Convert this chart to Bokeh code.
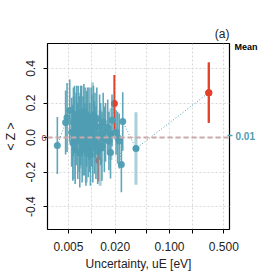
import math
from bokeh.plotting import figure
from bokeh.models import FixedTicker, LinearAxis, Range1d, Span
from bokeh.embed import file_html
from bokeh.resources import INLINE

# ---- data ----
unc = [0.0036, 0.0046, 0.0048, 0.0052, 0.0055, 0.0057, 0.0058, 0.0060, 0.0061, 0.0063,
       0.0064, 0.0066, 0.0067, 0.0069, 0.0070, 0.0072, 0.0074, 0.0075, 0.0077, 0.0079,
       0.0080, 0.0082, 0.0084, 0.0086, 0.0088, 0.0090, 0.0092, 0.0094, 0.0096, 0.0098,
       0.0100, 0.0103, 0.0105, 0.0108, 0.0110, 0.0113, 0.0116, 0.0119, 0.0126, 0.0130,
       0.0135, 0.0140, 0.0145, 0.0150, 0.0160, 0.0166, 0.0174, 0.0182, 0.0205, 0.0215,
       0.0225, 0.0240, 0.0250]
mz = [-0.046, 0.087, 0.116, 0.157, 0.03, -0.03, 0.09, 0.13, -0.07, 0.05,
      0.11, -0.02, 0.14, 0.02, -0.09, 0.07, 0.12, -0.05, 0.01, 0.15,
      -0.01, 0.09, -0.07, 0.05, 0.12, -0.04, 0.08, 0.00, -0.10, 0.10,
      0.04, -0.06, 0.13, 0.00, 0.07, -0.03, 0.11, -0.08, 0.06, 0.02,
      -0.05, 0.09, -0.01, 0.03, 0.06, -0.02, -0.087, 0.10, 0.03, 0.00,
      -0.02, -0.157, 0.093]
ez = [0.165, 0.185, 0.20, 0.18, 0.20, 0.22, 0.20, 0.17, 0.20, 0.21,
      0.19, 0.22, 0.16, 0.22, 0.20, 0.23, 0.18, 0.21, 0.23, 0.16,
      0.21, 0.20, 0.21, 0.22, 0.17, 0.19, 0.21, 0.20, 0.18, 0.19,
      0.21, 0.20, 0.17, 0.21, 0.19, 0.21, 0.18, 0.19, 0.19, 0.18,
      0.20, 0.17, 0.19, 0.17, 0.16, 0.17, 0.15, 0.15, 0.13, 0.15,
      0.16, 0.16, 0.17]

unc_light = [0.0059, 0.0071, 0.0085, 0.0102, 0.0128, 0.0176, 0.037]
mz_light = [0.00, 0.04, -0.03, 0.12, -0.06, 0.02, -0.064]
ez_light = [0.24, 0.22, 0.23, 0.20, 0.22, 0.15, 0.21]

unc_red = [0.0123, 0.0195, 0.32]
mz_red = [-0.133, 0.197, 0.26]
ez_red = [0.12, 0.165, 0.175]

mean_z = 0.01
x_ticks = [0.005, 0.01, 0.02, 0.05, 0.1, 0.2, 0.5]
x_tick_labels = {0.005: "0.005", 0.01: "", 0.02: "0.020", 0.05: "", 0.1: "0.100", 0.2: "", 0.5: "0.500"}
y_ticks = [-0.4, -0.2, 0.0, 0.2, 0.4]

TEAL = "#4f9db2"
TEAL_L = "#9fcbd7"
RED = "#e5412a"
FONT = "Liberation Sans"
INK = "#222222"

p = figure(width=274, height=274, x_axis_type="log",
           x_range=Range1d(0.00269, 0.591), y_range=Range1d(-0.533, 0.545),
           output_backend="svg", toolbar_location=None,
           min_border_left=44, min_border_right=45, min_border_top=43, min_border_bottom=45)
p.background_fill_color = "white"
p.border_fill_color = "white"
p.outline_line_color = "black"
p.outline_line_width = 1.2

# x axis
xa = p.xaxis[0]
xa.ticker = FixedTicker(ticks=x_ticks)
xa.major_label_overrides = x_tick_labels
xa.axis_line_color = None
xa.major_tick_in = 0
xa.major_tick_out = 4
xa.minor_tick_line_color = None
xa.major_label_text_font = FONT
xa.major_label_text_font_size = "12px"
xa.major_label_text_color = INK
xa.major_label_standoff = 8
xa.axis_label = "Uncertainty, uE [eV]"
xa.axis_label_text_font = FONT
xa.axis_label_text_font_size = "12px"
xa.axis_label_text_font_style = "normal"
xa.axis_label_text_color = INK
xa.axis_label_standoff = 3

# main y axis: rotated tick labels and axis title (outer)
ya = p.yaxis[0]
ya.ticker = FixedTicker(ticks=y_ticks)
ya.major_label_overrides = {v: ("%.1f" % v) for v in y_ticks}
ya.axis_line_color = None
ya.major_tick_line_color = None
ya.major_tick_in = 0
ya.major_tick_out = 0
ya.minor_tick_line_color = None
ya.major_label_orientation = "vertical"
ya.major_label_text_font = FONT
ya.major_label_text_font_size = "12px"
ya.major_label_text_color = INK
ya.major_label_standoff = 3
ya.axis_label = "< Z >"
ya.axis_label_text_font = FONT
ya.axis_label_text_font_size = "12px"
ya.axis_label_text_font_style = "normal"
ya.axis_label_text_color = INK
ya.axis_label_standoff = 6

# inner y axis: tick marks plus the small reference "0"
ya0 = LinearAxis(ticker=FixedTicker(ticks=y_ticks),
                 major_label_overrides={v: ("0" if v == 0 else "") for v in y_ticks})
ya0.axis_line_color = None
ya0.minor_tick_line_color = None
ya0.major_tick_in = 0
ya0.major_tick_out = 4
ya0.major_label_orientation = "horizontal"
ya0.major_label_text_font = FONT
ya0.major_label_text_font_size = "9px"
ya0.major_label_text_color = "#8e2b2b"
ya0.major_label_standoff = -3
p.left = [ya0] + list(p.left)

# grid
p.xgrid.ticker = FixedTicker(ticks=x_ticks)
p.ygrid.ticker = FixedTicker(ticks=y_ticks)
for g in (p.xgrid[0], p.ygrid[0]):
    g.grid_line_color = "#d8d8d8"
    g.grid_line_dash = "2 2"
    g.grid_line_width = 1

# zero reference line
p.add_layout(Span(location=0, dimension="width", line_color="#c9a9a9",
                  line_dash="5 3", line_width=2))

# dotted connecting line through all points sorted by uncertainty
allpts = sorted(zip(unc + unc_light + unc_red, mz + mz_light + mz_red))
p.line([a for a, b in allpts], [b for a, b in allpts], line_color=TEAL,
       line_dash="1 2", line_width=1)

# error bars and points (red drawn first, mostly hidden by the cluster)
p.segment(unc_red, [m - e for m, e in zip(mz_red, ez_red)],
          unc_red, [m + e for m, e in zip(mz_red, ez_red)],
          line_color=RED, line_width=2)
p.scatter(unc_red, mz_red, size=7, fill_color=RED, line_color=None)
p.segment(unc_light, [m - e for m, e in zip(mz_light, ez_light)],
          unc_light, [m + e for m, e in zip(mz_light, ez_light)],
          line_color=TEAL_L, line_width=3, line_alpha=0.9)
p.segment(unc, [m - e for m, e in zip(mz, ez)], unc, [m + e for m, e in zip(mz, ez)],
          line_color=TEAL, line_width=1.6, line_alpha=0.9)
p.scatter(unc_light, mz_light, size=7, fill_color=TEAL, line_color=None)
p.scatter(unc, mz, size=7, fill_color=TEAL, line_color=None, fill_alpha=0.95)
p.segment(unc_red[2:], [m - e for m, e in zip(mz_red[2:], ez_red[2:])],
          unc_red[2:], [m + e for m, e in zip(mz_red[2:], ez_red[2:])],
          line_color=RED, line_width=2)
p.scatter(unc_red[2:], mz_red[2:], size=7, fill_color=RED, line_color=None)

# right axes: mean value tick, and the "Mean" heading
rax = LinearAxis(ticker=FixedTicker(ticks=[mean_z]),
                 major_label_overrides={mean_z: "0.01"})
rax.axis_line_color = None
rax.minor_tick_line_color = None
rax.major_tick_in = 2
rax.major_tick_out = 3
rax.major_tick_line_color = TEAL
rax.major_tick_line_width = 1.5
rax.major_label_text_color = TEAL
rax.major_label_text_font = FONT
rax.major_label_text_font_style = "bold"
rax.major_label_text_font_size = "10px"
rax.major_label_standoff = 3

mean_top = 0.527
rmean = LinearAxis(ticker=FixedTicker(ticks=[mean_top]),
                   major_label_overrides={mean_top: "Mean"})
rmean.axis_line_color = None
rmean.minor_tick_line_color = None
rmean.major_tick_line_color = None
rmean.major_tick_in = 0
rmean.major_tick_out = 0
rmean.major_label_text_color = "black"
rmean.major_label_text_font = FONT
rmean.major_label_text_font_style = "bold"
rmean.major_label_text_font_size = "9px"
rmean.major_label_standoff = -23
p.right = [rax, rmean]

# panel tag
p.title.text = "(a)"
p.title.align = "right"
p.title.text_font = FONT
p.title.text_font_size = "12px"
p.title.text_font_style = "normal"
p.title.text_color = INK
try:
    p.title.standoff = 5
except Exception:
    pass

open("out.html", "w").write(file_html(p, INLINE))
